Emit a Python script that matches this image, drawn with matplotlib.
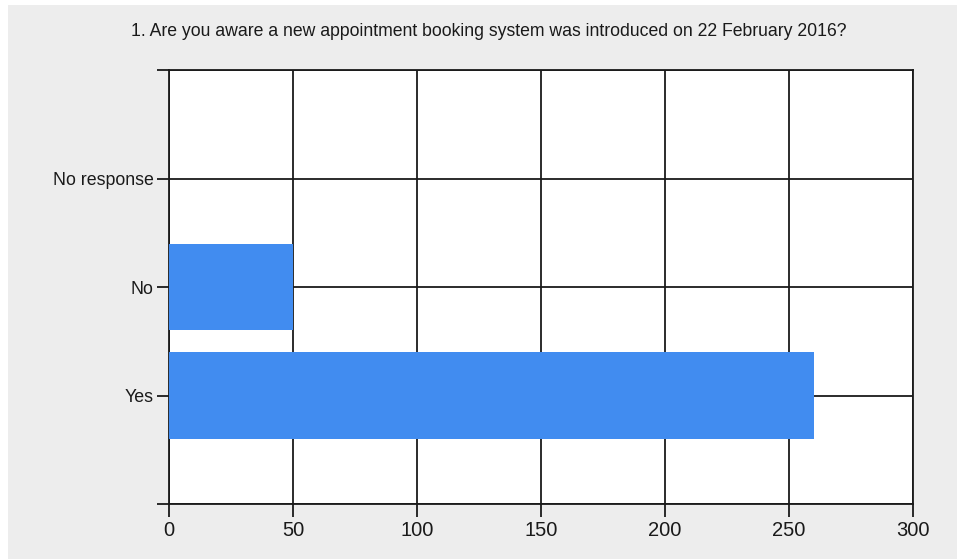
import matplotlib
matplotlib.use("Agg")
import matplotlib.pyplot as plt
from matplotlib.patches import Rectangle

TITLE = "1. Are you aware a new appointment booking system was introduced on 22 February 2016?"
categories = ["Yes", "No", "No response"]
counts = [260, 50, 0]
x_ticks = [0, 50, 100, 150, 200, 250, 300]

plt.rcParams["font.family"] = ["Liberation Sans", "DejaVu Sans"]

W, H = 957, 559
fig = plt.figure(figsize=(W / 100, H / 100), dpi=100, facecolor="white")
# grey panel behind the chart (thin white strip on the top/left edge)
fig.patches.append(Rectangle((8 / W, 0), 1, 1 - 5 / H, transform=fig.transFigure,
                             facecolor="#EDEDED", edgecolor="none", zorder=-10))

ax = fig.add_axes([169 / W, 1 - 504 / H, 744 / W, 434 / H])
ax.set_facecolor("white")

ypos = [1, 2, 3]
ax.barh(ypos, counts, height=0.8, color="#418CF0", zorder=3)

ax.set_xlim(0, 300)
ax.set_ylim(0, 4)
ax.set_xticks(x_ticks)
ax.set_xticklabels([str(t) for t in x_ticks], fontsize=14.5, color="#1a1a1a")
ax.set_yticks([0, 1, 2, 3, 4])
ax.set_yticklabels([""] + categories + [""], fontsize=12.8, color="#1a1a1a")

ax.grid(True, color="#1a1a1a", linewidth=1.3, zorder=1)
ax.set_axisbelow(True)
for s in ax.spines.values():
    s.set_color("#1a1a1a")
    s.set_linewidth(1.3)
ax.tick_params(axis="both", direction="out", length=9, width=1.3, color="#1a1a1a")
ax.tick_params(axis="x", pad=3)
ax.tick_params(axis="y", pad=2)

fig.text(489 / W, 1 - 32 / H, TITLE, ha="center", va="center", fontsize=12.7, color="#1a1a1a")

fig.savefig("out.png", dpi=100, facecolor=fig.get_facecolor())
